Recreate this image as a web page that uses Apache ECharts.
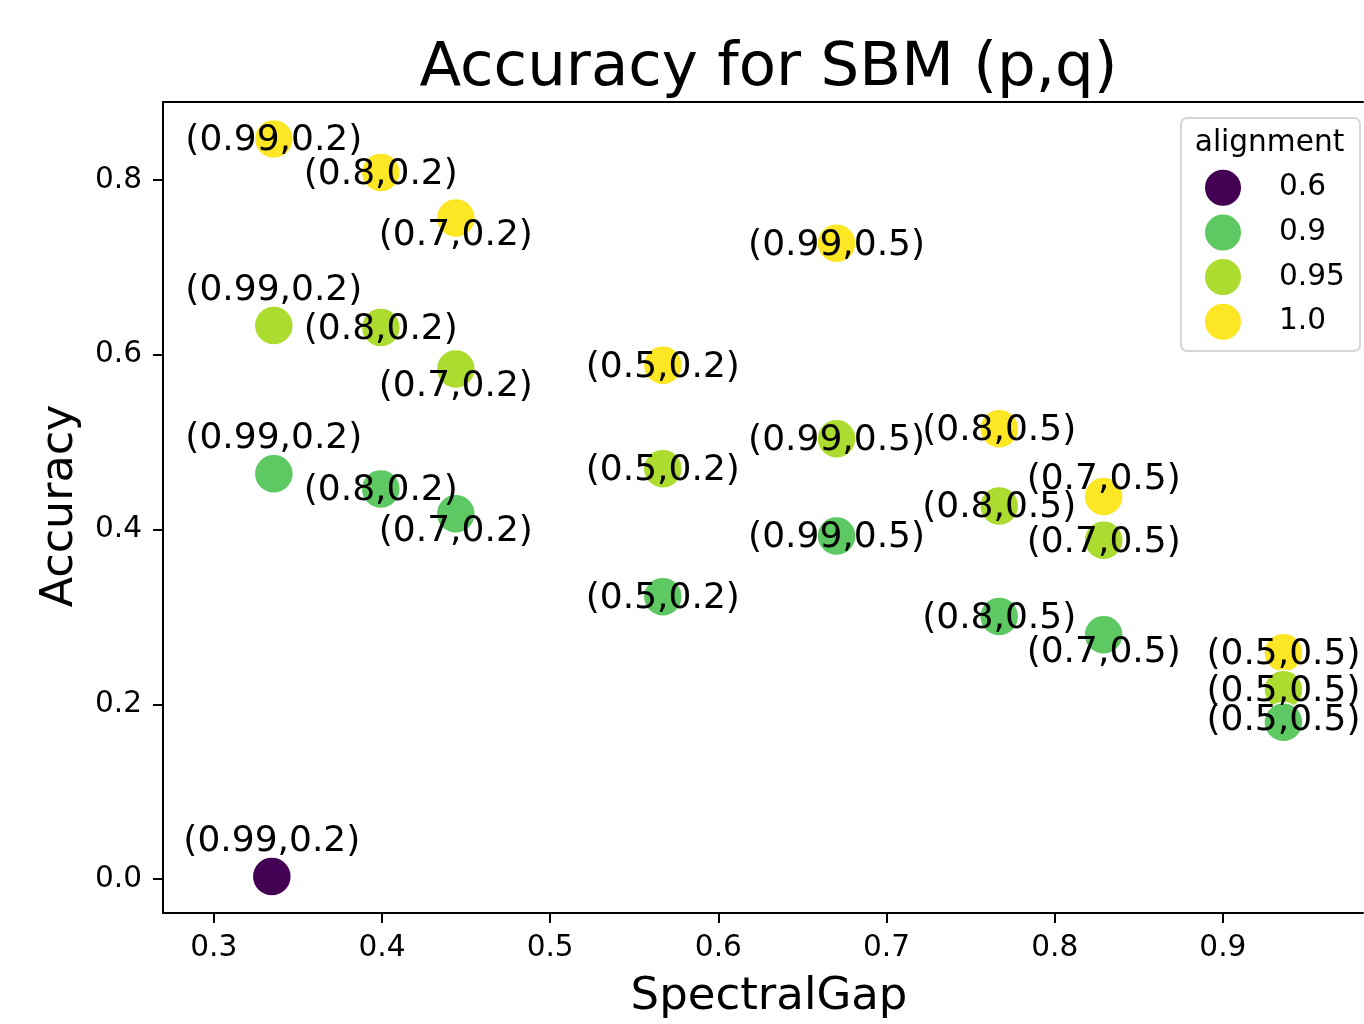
<!DOCTYPE html>
<html>
<head>
<meta charset="utf-8">
<script src="https://cdn.jsdelivr.net/npm/echarts@6/dist/echarts.min.js"></script>
<style>
html,body{margin:0;padding:0;background:#fff;}
#chart{width:1364px;height:1024px;}
</style>
</head>
<body>
<div id="chart"></div>
<script>
// ---- data ----
const spectralGap = [0.3345,0.3357,0.3357,0.3357,0.3993,0.3993,0.3993,0.4439,0.4439,0.4439,0.567,0.567,0.567,0.6703,0.6703,0.6703,0.767,0.767,0.767,0.8291,0.8291,0.8291,0.936,0.936,0.936];
const accuracy    = [0.003,0.847,0.6336,0.4637,0.8086,0.6313,0.4465,0.7566,0.5838,0.418,0.588,0.4696,0.323,0.7276,0.504,0.3925,0.5154,0.4268,0.3004,0.4377,0.3876,0.2795,0.2589,0.2166,0.1794];
const alignment   = [0.6,1.0,0.95,0.9,1.0,0.95,0.9,1.0,0.95,0.9,1.0,0.95,0.9,1.0,0.95,0.9,1.0,0.95,0.9,1.0,0.95,0.9,1.0,0.95,0.9];
const pqLabels    = ["(0.99,0.2)","(0.99,0.2)","(0.99,0.2)","(0.99,0.2)","(0.8,0.2)","(0.8,0.2)","(0.8,0.2)","(0.7,0.2)","(0.7,0.2)","(0.7,0.2)","(0.5,0.2)","(0.5,0.2)","(0.5,0.2)","(0.99,0.5)","(0.99,0.5)","(0.99,0.5)","(0.8,0.5)","(0.8,0.5)","(0.8,0.5)","(0.7,0.5)","(0.7,0.5)","(0.7,0.5)","(0.5,0.5)","(0.5,0.5)","(0.5,0.5)"];
const alignmentLevels = [0.6, 0.9, 0.95, 1.0];
const xTicks = [0.3,0.4,0.5,0.6,0.7,0.8,0.9];
const yTicks = [0.0,0.2,0.4,0.6,0.8];

// ---- styles (kept separate from data) ----
const labelShiftY = [-35,2,-35,-35,2,2,2,18,18,18,2,2,2,2,2,2,2,2,2,-17,2,18,2,2,-2];
const levelColors = {"0.6":"#440154","0.9":"#5ec962","0.95":"#addc30","1.0":"#fde725"};
const drawOrder = [1.0, 0.95, 0.9, 0.6];
const FONT = "DejaVu Sans";

function levelName(v){ return v.toFixed(v === 0.95 ? 2 : 1); }

const series = drawOrder.map(function(level){
  const pts = [];
  for (let i = 0; i < spectralGap.length; i++) {
    if (alignment[i] === level) {
      pts.push({
        value: [spectralGap[i], accuracy[i]],
        label: { offset: [0, labelShiftY[i]] },
        name: pqLabels[i]
      });
    }
  }
  return {
    type: 'scatter',
    name: levelName(level),
    data: pts,
    symbol: 'circle',
    symbolSize: 39,
    itemStyle: { color: levelColors[levelName(level)], borderColor: '#ffffff', borderWidth: 1.5, opacity: 1 },
    label: {
      show: true, position: 'inside',
      formatter: function(p){ return p.name; },
      color: '#000', fontSize: 36, fontFamily: FONT
    },
    emphasis: { disabled: true }
  };
});

const axisLineStyle = { color: '#000', width: 2 };
const chart = echarts.init(document.getElementById('chart'), null, { renderer: 'canvas' });
chart.setOption({
  animation: false,
  backgroundColor: '#ffffff',
  grid: { left: 163, top: 102, width: 1200, height: 811, show: false },
  xAxis: [{
    type: 'value', min: 0.2698, max: 0.9833,
    axisLine: { show: true, onZero: false, lineStyle: axisLineStyle },
    axisTick: { show: true, length: 10, lineStyle: { color: '#000', width: 2 }, customValues: xTicks },
    axisLabel: { color: '#000', fontSize: 29.6, fontFamily: FONT, margin: 20, customValues: xTicks,
                 formatter: function(v){ return v.toFixed(1); } },
    splitLine: { show: false }
  }, {
    type: 'value', position: 'top', min: 0.2698, max: 0.9833,
    axisLine: { show: true, onZero: false, lineStyle: axisLineStyle },
    axisTick: { show: false }, axisLabel: { show: false }, splitLine: { show: false }
  }],
  yAxis: {
    type: 'value', min: -0.0389, max: 0.8893,
    axisLine: { show: true, onZero: false, lineStyle: axisLineStyle },
    axisTick: { show: true, length: 10, lineStyle: { color: '#000', width: 2 }, customValues: yTicks },
    axisLabel: { color: '#000', fontSize: 29.6, fontFamily: FONT, margin: 21, customValues: yTicks,
                 formatter: function(v){ return v.toFixed(1); } },
    splitLine: { show: false }
  },
  legend: {
    data: alignmentLevels.map(levelName),
    orient: 'vertical', left: 1203, top: 167.7,
    icon: 'circle', itemWidth: 102, itemHeight: 38, itemGap: 4.7,
    textStyle: { color: '#000', fontSize: 29.6, fontFamily: FONT },
    selectedMode: false, padding: 0, borderWidth: 0
  },
  graphic: [
    { type: 'rect', left: 1180, top: 117, shape: { width: 179, height: 233, r: 6 },
      style: { fill: 'rgba(255,255,255,0.8)', stroke: '#d6d6d6', lineWidth: 2 }, z: 0 },
    { type: 'text', x: 1269.5, y: 143, style: { text: 'alignment', fill: '#000', font: '29.6px "DejaVu Sans"', align: 'center', verticalAlign: 'middle' }, z: 10 },
    { type: 'text', x: 768.5, y: 69, style: { text: 'Accuracy for SBM (p,q)', fill: '#000', font: '61px "DejaVu Sans"', align: 'center', verticalAlign: 'middle' } },
    { type: 'text', x: 769, y: 997, style: { text: 'SpectralGap', fill: '#000', font: '45px "DejaVu Sans"', align: 'center', verticalAlign: 'middle' } },
    { type: 'text', x: 60, y: 506, rotation: Math.PI/2, style: { text: 'Accuracy', fill: '#000', font: '44.4px "DejaVu Sans"', align: 'center', verticalAlign: 'middle' } }
  ],
  series: series
});
</script>
</body>
</html>
